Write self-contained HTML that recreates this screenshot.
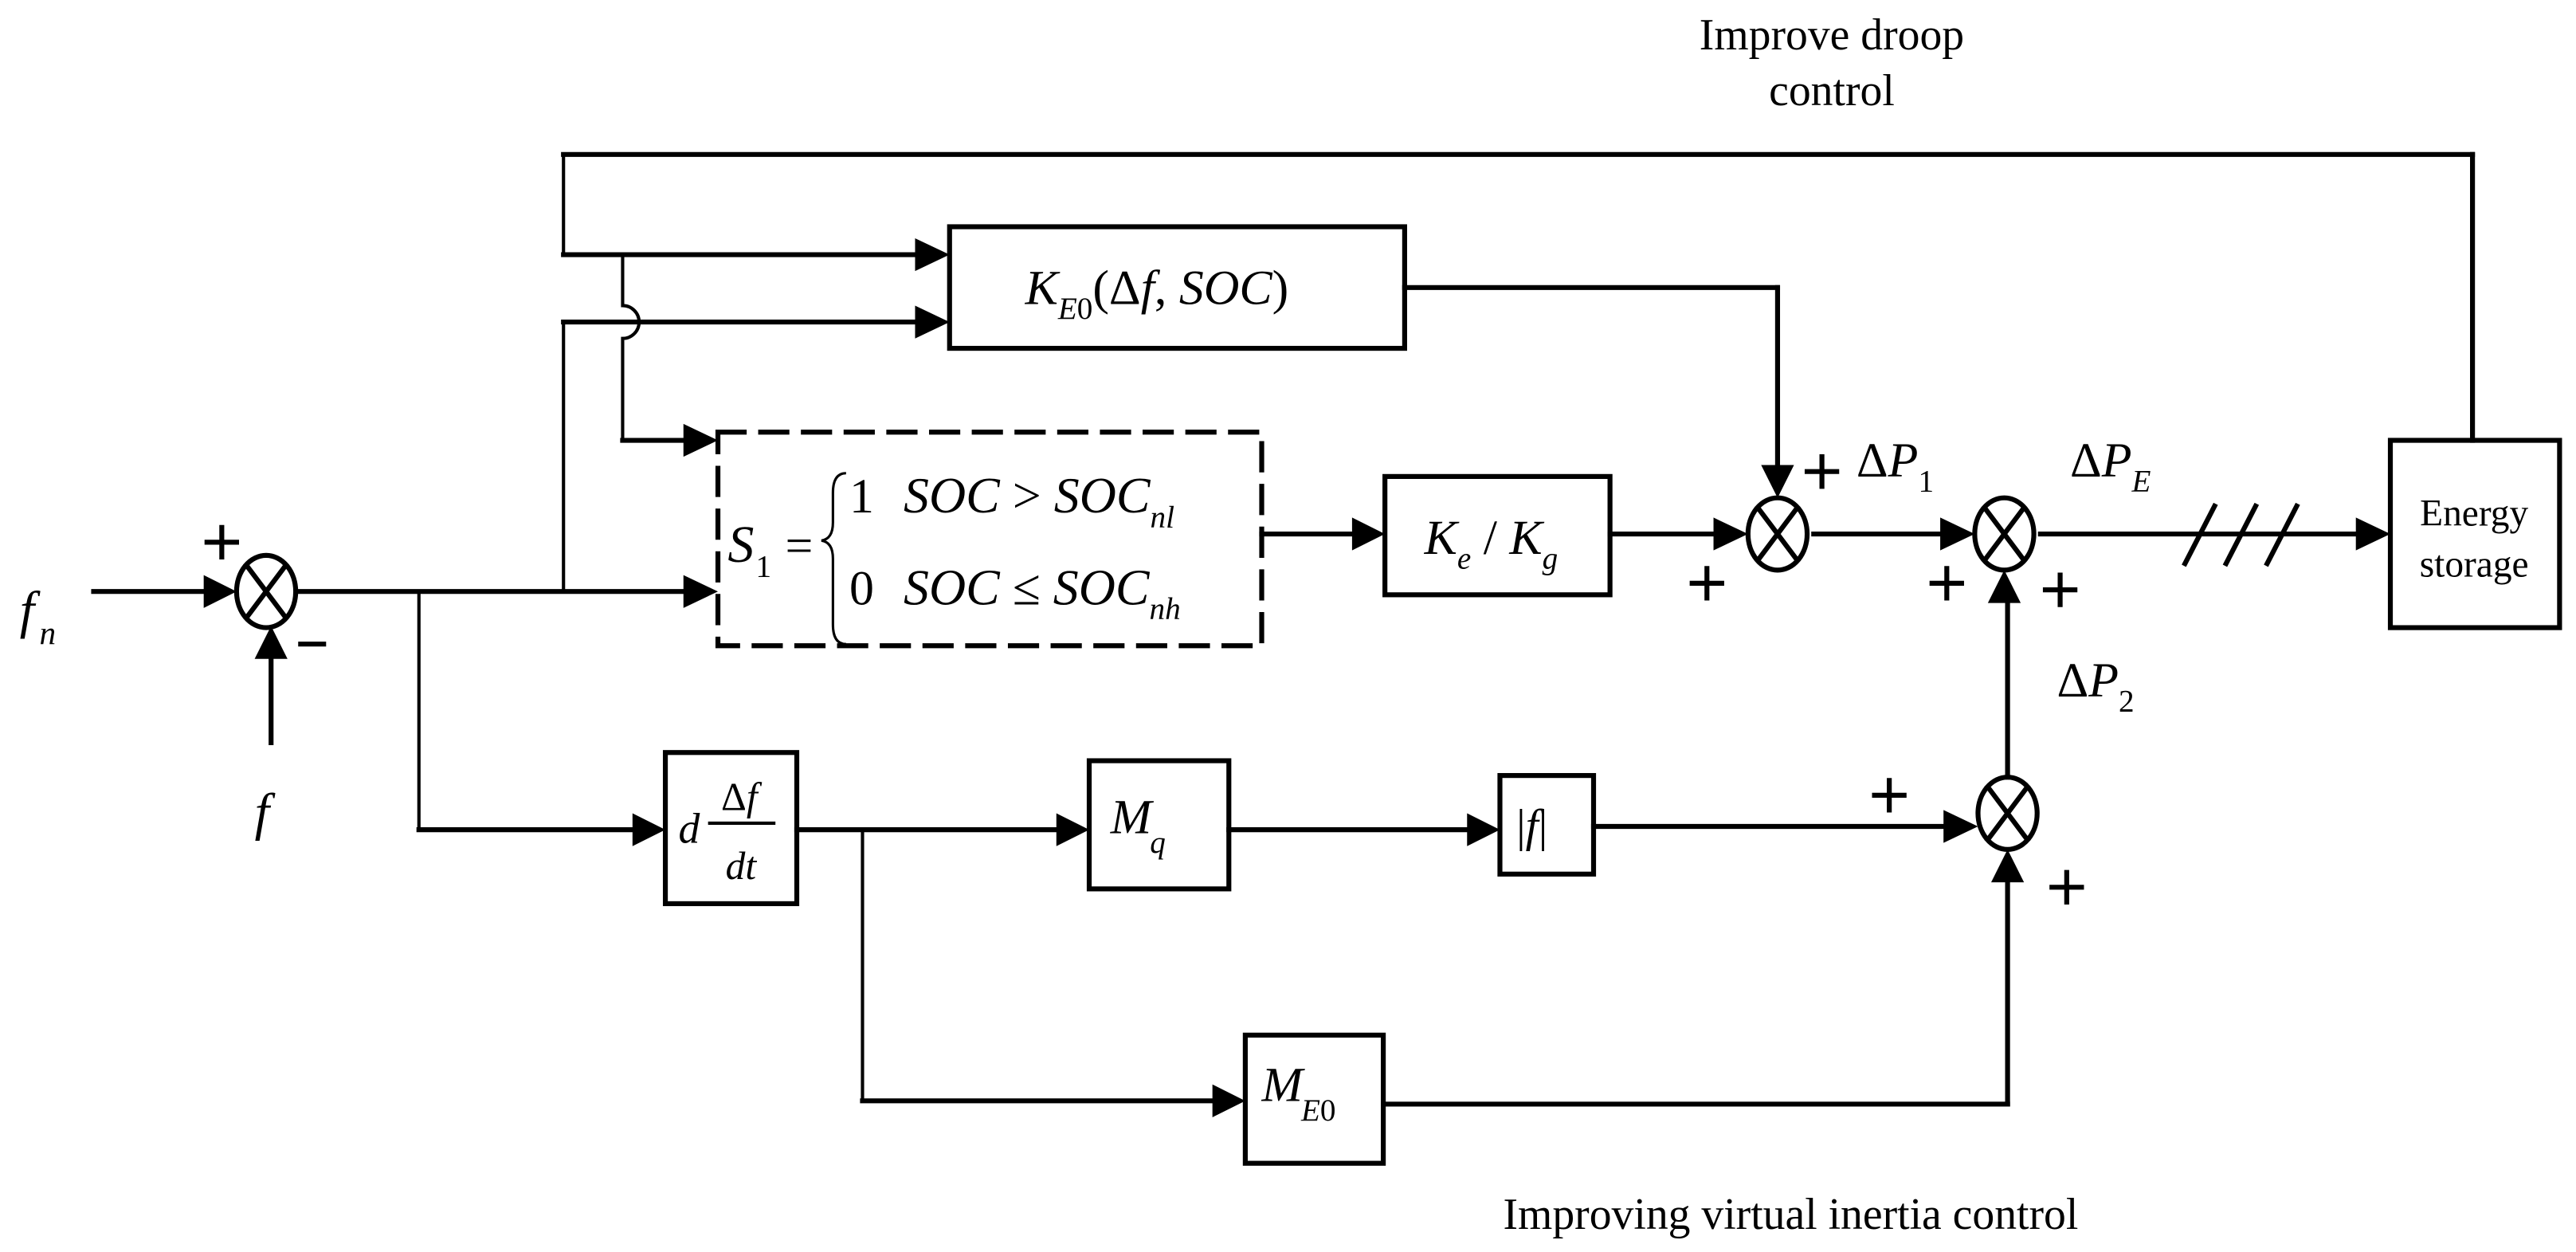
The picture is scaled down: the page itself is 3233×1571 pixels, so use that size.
<!DOCTYPE html>
<html><head><meta charset="utf-8"><style>
html,body{margin:0;padding:0;background:#fff;}
svg{display:block;}
text{font-family:"Liberation Serif",serif;fill:#000;}
.it{font-style:italic;}
</style></head><body>
<svg width="3233" height="1571" viewBox="0 0 1568 762" preserveAspectRatio="none" xmlns="http://www.w3.org/2000/svg">
<g fill="none" stroke="#000" stroke-width="3" stroke-linecap="square">
<line x1="57" y1="360" x2="124" y2="360"/>
<line x1="165" y1="452" x2="165" y2="400"/>
<line x1="182" y1="360" x2="416" y2="360"/>
<line x1="343" y1="360" x2="343" y2="196" stroke-width="2"/>
<line x1="343" y1="196" x2="558" y2="196"/>
<line x1="343" y1="155" x2="343" y2="94" stroke-width="2"/>
<line x1="343" y1="94" x2="1505" y2="94"/>
<line x1="1505" y1="94" x2="1505" y2="268"/>
<line x1="343" y1="155" x2="558" y2="155"/>
<path d="M379,155 L379,186 A10,10 0 0 1 379,206 L379,268" stroke-width="2"/>
<line x1="379" y1="268" x2="416" y2="268"/>
<line x1="255" y1="360" x2="255" y2="505" stroke-width="2"/>
<line x1="255" y1="505" x2="385" y2="505"/>
<line x1="485" y1="505" x2="643" y2="505"/>
<line x1="525" y1="505" x2="525" y2="670" stroke-width="2"/>
<line x1="525" y1="670" x2="738" y2="670"/>
<line x1="748" y1="505" x2="893" y2="505"/>
<line x1="970" y1="503" x2="1182" y2="503"/>
<line x1="842" y1="672" x2="1222" y2="672"/>
<line x1="1222" y1="672" x2="1222" y2="537"/>
<line x1="1222" y1="473" x2="1222" y2="367"/>
<line x1="768" y1="325" x2="823" y2="325"/>
<line x1="980" y1="325" x2="1042" y2="325"/>
<line x1="855" y1="175" x2="1082" y2="175"/>
<line x1="1082" y1="175" x2="1082" y2="285"/>
<line x1="1104" y1="325" x2="1180" y2="325"/>
<line x1="1242" y1="325" x2="1435" y2="325"/>
<line x1="1330" y1="343" x2="1348" y2="308"/>
<line x1="1355" y1="343" x2="1373" y2="308"/>
<line x1="1380" y1="343" x2="1398" y2="308"/>
<rect x="578" y="138" width="277" height="74"/>
<rect x="843" y="290" width="137" height="72"/>
<rect x="1455" y="268" width="103" height="114"/>
<rect x="405" y="458" width="80" height="92"/>
<rect x="663" y="463" width="85" height="78"/>
<rect x="913" y="472" width="57" height="60"/>
<rect x="758" y="630" width="84" height="78"/>
<rect x="437" y="263" width="331" height="130" stroke-dasharray="16,10"/>
<ellipse cx="162" cy="360" rx="18" ry="22"/>
<ellipse cx="1082" cy="325" rx="18" ry="22"/>
<ellipse cx="1220" cy="325" rx="18" ry="22"/>
<ellipse cx="1222" cy="495" rx="18" ry="22"/>
<path d="M150,344 L174,376 M174,344 L150,376 M1070,309 L1094,341 M1094,309 L1070,341 M1208,309 L1232,341 M1232,309 L1208,341 M1210,479 L1234,511 M1234,479 L1210,511"/>
<path d="M126,330 h18 M135,321 v18 M1100,287 h18 M1109,278 v18 M1030,355 h18 M1039,346 v18 M1176,355 h18 M1185,346 v18 M1245,359 h18 M1254,350 v18 M1141,484 h18 M1150,475 v18 M1249,540 h18 M1258,531 v18 M183,392 h14"/>
</g>
<g fill="#000">
<polygon points="144,360 124,350 124,370"/>
<polygon points="165,381 155,401 175,401"/>
<polygon points="437,360 416,350 416,370"/>
<polygon points="578,196 557,186 557,206"/>
<polygon points="578,155 557,145 557,165"/>
<polygon points="437,268 416,258 416,278"/>
<polygon points="405,505 385,495 385,515"/>
<polygon points="663,505 643,495 643,515"/>
<polygon points="913,505 893,495 893,515"/>
<polygon points="758,670 738,660 738,680"/>
<polygon points="1204,503 1183,493 1183,513"/>
<polygon points="1222,517 1212,537 1232,537"/>
<polygon points="1220,347 1210,367 1230,367"/>
<polygon points="843,325 823,315 823,335"/>
<polygon points="1064,325 1043,315 1043,335"/>
<polygon points="1082,303 1072,283 1092,283"/>
<polygon points="1202,325 1181,315 1181,335"/>
<polygon points="1455,325 1434,315 1434,335"/>
</g>
<text x="1115" y="30" font-size="27" text-anchor="middle">Improve droop</text>
<text x="1115" y="64" font-size="27" text-anchor="middle">control</text>
<text x="1090" y="748" font-size="27" text-anchor="middle">Improving virtual inertia control</text>
<text x="1506" y="320" font-size="23" text-anchor="middle">Energy</text>
<text x="1506" y="351" font-size="23" text-anchor="middle">storage</text>
<text x="12" y="382" font-size="32" class="it">f</text><text x="24" y="392" font-size="20" class="it">n</text>
<text x="155" y="505" font-size="32" class="it">f</text>
<text x="624" y="185" font-size="30"><tspan class="it">K</tspan><tspan class="it" font-size="19" dy="9">E</tspan><tspan font-size="19">0</tspan><tspan dy="-9">(Δ</tspan><tspan class="it">f</tspan><tspan>, </tspan><tspan class="it">SOC</tspan><tspan>)</tspan></text>
<text x="867" y="337" font-size="30"><tspan class="it">K</tspan><tspan class="it" font-size="19" dy="9">e</tspan><tspan dy="-9"> / </tspan><tspan class="it">K</tspan><tspan class="it" font-size="19" dy="9">g</tspan></text>
<text x="443" y="342" font-size="32" class="it">S</text><text x="460" y="351" font-size="19">1</text>
<text x="478" y="342" font-size="30">=</text>
<path d="M515,288 Q507,288 507,300 L507,318 Q507,328 500,329 Q507,330 507,340 L507,380 Q507,392 515,392" fill="none" stroke="#000" stroke-width="1.5"/>
<text x="517" y="312" font-size="30">1</text>
<text x="517" y="368" font-size="30">0</text>
<text x="550" y="312" font-size="31"><tspan class="it">SOC</tspan> &gt; <tspan class="it">SOC</tspan><tspan class="it" font-size="19" dy="9">nl</tspan></text>
<text x="550" y="368" font-size="31"><tspan class="it">SOC</tspan> ≤ <tspan class="it">SOC</tspan><tspan class="it" font-size="19" dy="9">nh</tspan></text>
<text x="413" y="513" font-size="26" class="it">d</text>
<text x="450" y="493" font-size="24" text-anchor="middle">Δ<tspan class="it">f</tspan></text>
<line x1="431" y1="501" x2="472" y2="501" stroke="#000" stroke-width="2"/>
<text x="451" y="535" font-size="24" class="it" text-anchor="middle">dt</text>
<text x="676" y="507" font-size="30" class="it">M</text><text x="700" y="519" font-size="19" class="it">q</text>
<text x="923" y="512" font-size="28">|<tspan class="it">f</tspan>|</text>
<text x="768" y="670" font-size="30" class="it">M</text><text x="792" y="682" font-size="19"><tspan class="it">E</tspan>0</text>
<text x="1130" y="290" font-size="30">Δ<tspan class="it">P</tspan><tspan font-size="19" dy="9">1</tspan></text>
<text x="1260" y="290" font-size="30">Δ<tspan class="it">P</tspan><tspan font-size="19" class="it" dy="9">E</tspan></text>
<text x="1252" y="424" font-size="30">Δ<tspan class="it">P</tspan><tspan font-size="19" dy="9">2</tspan></text>
</svg>
</body></html>
